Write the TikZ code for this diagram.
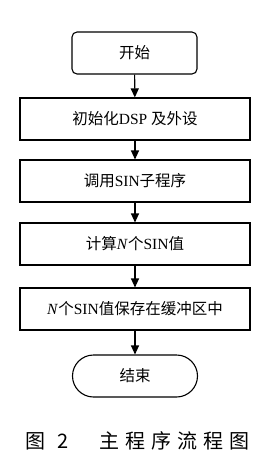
\documentclass[tikz,border=0pt]{standalone}
\usepackage{fontspec}
\setmainfont{Liberation Serif}
\newfontfamily\cjk{Noto Sans CJK SC}
\usetikzlibrary{arrows.meta, positioning}

\begin{document}
\begin{tikzpicture}[x=1pt, y=-1pt, font=\fontsize{15.5}{18}\selectfont,
    stepbox/.style={draw, line width=1.1pt, minimum width=230pt, minimum height=42pt},
    termbox/.style={draw, line width=1.1pt, minimum width=125pt, minimum height=42pt}]
    \useasboundingbox (0,0) rectangle (271,459);
    \node[termbox, rounded corners=5pt] (start) at (134.5,53) {\cjk 开始};
    \foreach \i/\y/\txt in {1/119/{{\cjk 初始化}DSP {\cjk 及外设}},
                            2/181/{{\cjk 调用}SIN{\cjk 子程序}},
                            3/244/{{\cjk 计算}\textit{N}{\cjk 个}SIN{\cjk 值}},
                            4/309/{\textit{N}{\cjk 个}SIN{\cjk 值保存在缓冲区中}}}
    {
        \node[stepbox] (n\i) at (135,\y) {\txt};
    }
    \node[termbox, rounded corners=21pt] (stop) at (135,376) {\cjk 结束};
    \foreach \j [remember=\j as \last (initially start)] in {n1,n2,n3,n4,stop}
        \draw[-{Triangle[length=9pt, width=8pt]}, line width=1.1pt] (\last) -- (\j);
    \node[font=\fontsize{20}{24}\selectfont, anchor=west, inner sep=0pt] (caption) at (25,441)
        {\cjk 图\hspace{12pt}2\hspace{31pt}主\hspace{6pt}程\hspace{6pt}序\hspace{6pt}流\hspace{6pt}程\hspace{6pt}图};
\end{tikzpicture}
\end{document}
